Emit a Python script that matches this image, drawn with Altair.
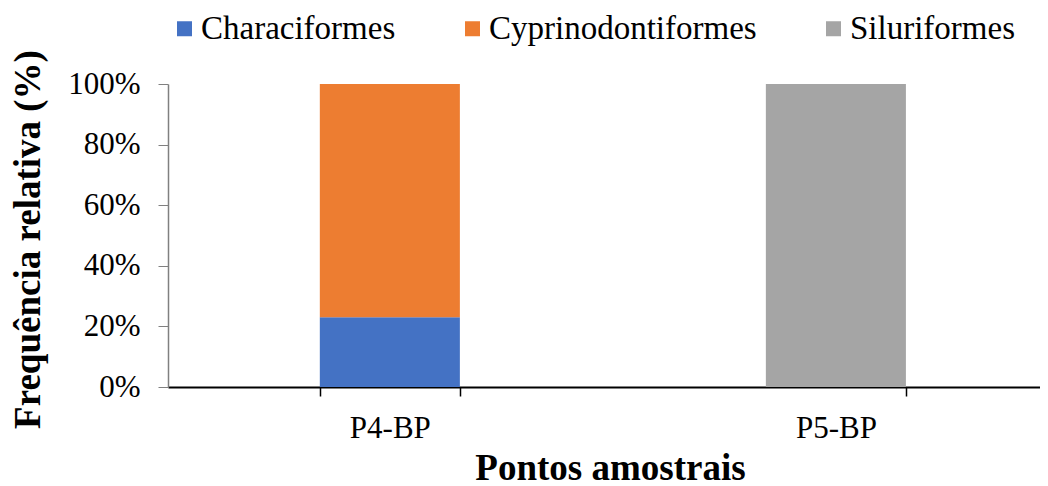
import altair as alt
import pandas as pd

pontos = ["P4-BP", "P4-BP", "P5-BP"]
ordens = ["Characiformes", "Cyprinodontiformes", "Siluriformes"]
freq = [0.23, 0.77, 1.00]
ordem_idx = [0, 1, 2]

cores = ["#4472C4", "#ED7D31", "#A5A5A5"]
y_ticks = [0, 0.2, 0.4, 0.6, 0.8, 1.0]

df = pd.DataFrame({"Ponto": pontos, "Ordem": ordens, "Freq": freq, "idx": ordem_idx})

FONT = "Liberation Serif"

chart = alt.Chart(df).mark_bar().encode(
    x=alt.X(
        "Ponto:N",
        title="Pontos amostrais",
        scale=alt.Scale(paddingInner=0.686, paddingOuter=0.3205, align=0.531),
        axis=alt.Axis(
            labelAngle=0,
            labelFont=FONT,
            labelFontSize=31,
            labelColor="black",
            labelPadding=17,
            tickSize=9,
            tickColor="black",
            tickWidth=1.5,
            tickBand="extent",
            domainColor="black",
            domainWidth=2,
            titleFont=FONT,
            titleFontSize=37,
            titleFontWeight="bold",
            titleColor="black",
            titleX=442,
            titleY=92,
            titleBaseline="alphabetic",
        ),
    ),
    y=alt.Y(
        "Freq:Q",
        title="Frequência relativa (%)",
        stack="zero",
        scale=alt.Scale(domain=[0, 1], nice=False),
        axis=alt.Axis(
            values=y_ticks,
            format=".0%",
            grid=False,
            labelFont=FONT,
            labelFontSize=31,
            labelColor="black",
            labelPadding=18,
            tickSize=10,
            tickColor="#808080",
            domainColor="#808080",
            domainWidth=1.5,
            titleFont=FONT,
            titleFontSize=37,
            titleFontWeight="bold",
            titleColor="black",
            titleX=-121,
            titleY=155,
        ),
    ),
    color=alt.Color(
        "Ordem:N",
        scale=alt.Scale(domain=ordens, range=cores),
        legend=alt.Legend(
            title=None,
            orient="none",
            legendX=0,
            legendY=-72,
            direction="horizontal",
            columns=3,
            columnPadding=60,
            symbolType="square",
            symbolSize=225,
            symbolStrokeWidth=0,
            labelFont=FONT,
            labelFontSize=33,
            labelColor="black",
            labelOffset=0,
            labelLimit=0,
            padding=0,
        ),
    ),
    order=alt.Order("idx:Q", sort="ascending"),
).properties(
    width=872,
    height=303,
    autosize=alt.AutoSizeParams(type="none"),
    padding={"left": 160, "top": 76, "right": 0, "bottom": 99},
).configure_view(stroke=None)

chart.save("out.html", embed_options={"renderer": "svg", "actions": False})
